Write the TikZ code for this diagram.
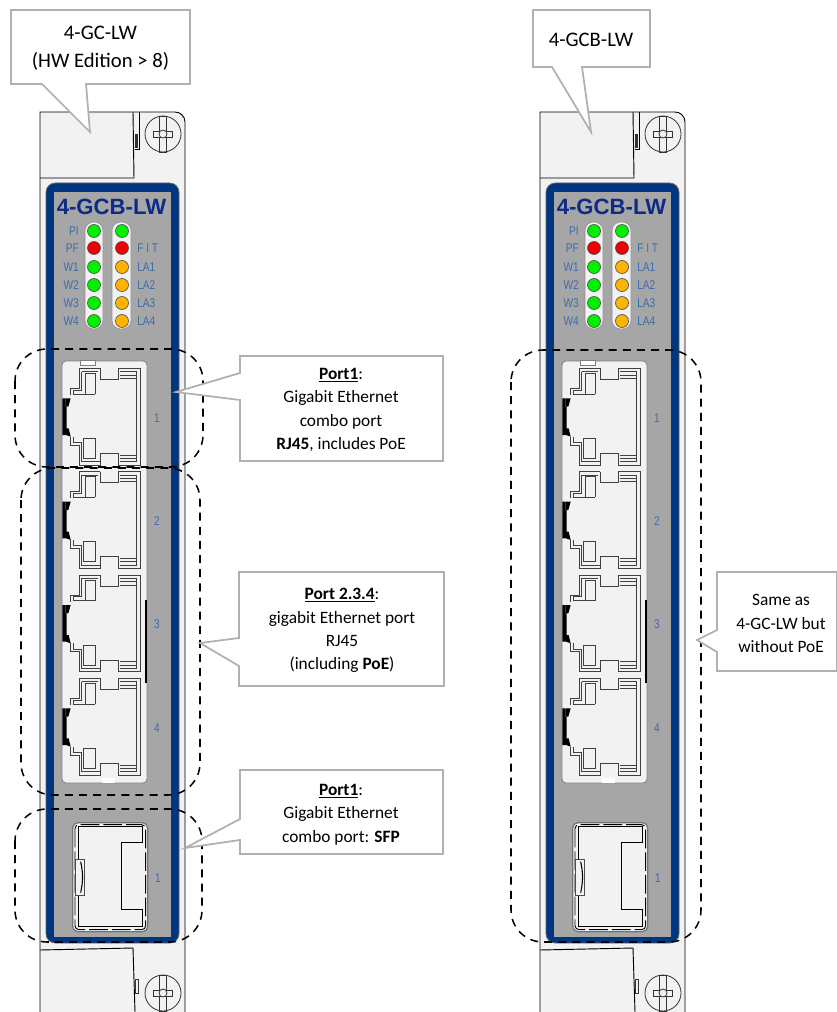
\documentclass[tikz,border=0pt]{standalone}
\usepackage{graphicx}
\usepackage{fontspec}
\setmainfont{Carlito}
\newfontfamily\armfont{Liberation Sans}
\definecolor{plate}{HTML}{F2F2F2}
\definecolor{panelblue}{HTML}{003580}
\definecolor{panelgray}{HTML}{A6A6A6}
\definecolor{labelblue}{HTML}{3F6CA8}
\definecolor{titleblue}{HTML}{0B2B85}
\definecolor{ledgreen}{HTML}{00F000}
\definecolor{ledred}{HTML}{F00000}
\definecolor{ledamber}{HTML}{FFB400}
\definecolor{callgray}{HTML}{B0B0B0}
\tikzset{
  platebox/.style={draw=black,line width=.7pt,fill=plate},
  portline/.style={draw=black!75,line width=.65pt},
  dashbox/.style={draw=black,line width=1.15pt,dash pattern=on 6pt off 4.6pt,rounded corners=24pt},
  callbox/.style={draw=callgray,line width=1.3pt,fill=white,miter limit=10},
  calltext/.style={font=\fontsize{13}{17.5}\selectfont,align=center,inner sep=0pt,text=black},
  ledpill/.style={draw=black!45,line width=.4pt,fill=plate,rounded corners=6.5pt},
  led/.style={draw=black!70,line width=.5pt},
  ledlabel/.style={font=\armfont\fontsize{9.5}{10}\selectfont,text=labelblue,inner sep=0pt},
  numlabel/.style={font=\armfont\fontsize{9.5}{10}\selectfont,text=labelblue,inner sep=0pt},
}
\newcommand{\myscrew}[2]{%
  \draw[black!80,line width=.6pt,fill=plate] (#1,#2) circle (18);
  \draw[black!80,line width=.6pt] (#1-3.5,#2-18) rectangle (#1+3.5,#2+18);
  \draw[black!80,line width=.6pt,fill=plate] (#1-9.5,#2-3) rectangle (#1+9.5,#2+3);
  \draw[black!80,line width=.6pt,fill=plate] (#1,#2) circle (4);
}
\newcommand{\myport}{%
  \draw[portline] (147,85) -- (210,85) (147,85) -- (147,145) -- (122,145) -- (122,165);
  \draw[portline] (155,95) -- (205,95) (155,95) -- (155,150) -- (130,150) -- (130,162) -- (195,162);
  \draw[portline] (165,100) -- (195,100) -- (195,162) (165,100) -- (165,162);
  \draw[portline] (210,85) -- (210,118) -- (265,118) -- (265,85) -- (330,85) -- (330,375) -- (265,375);
  \draw[portline] (270,95) -- (320,95) -- (320,365) -- (270,365);
  \draw[portline] (270,105) -- (318,105) (270,115) -- (318,115);
  \draw[portline] (270,345) -- (318,345) (270,355) -- (318,355);
  \draw[portline] (122,290) -- (122,315) -- (147,315) -- (147,375) -- (212,375);
  \draw[portline] (130,290) -- (130,307) -- (155,307) -- (155,365) -- (212,365);
  \draw[portline] (160,295) -- (195,295) -- (195,355) -- (160,355) -- cycle;
  \draw[portline,fill=plate] (212,375) -- (212,340) -- (265,340) -- (265,375);
  \fill[black] (97,175) -- (107,175) -- (107,200) -- (110,200) -- (110,270) -- (107,285) -- (97,285) -- cycle;
  \fill[black] (107,175) -- (122,175) -- (115,200) -- (107,200) -- cycle;
  \fill[black] (108,265) -- (116,265) -- (122,290) -- (108,285) -- cycle;
}
\newcommand{\mymodule}{%
  % faceplate
  \path[platebox] (40,1012) -- (40,112) -- (175,112) to[out=0,in=90] (185,122) -- (185,1012);
  \draw[black,line width=.7pt] (40,178) -- (134,178) -- (133,112);
  \draw[black,line width=.7pt] (139,112) -- (139,149) -- (135,149);
  \fill[black!80] (135,134) rectangle (137.5,148);
  \myscrew{163}{134}
  % lower latch
  \draw[black,line width=.7pt] (40,950) -- (133,948) -- (135,1012);
  \draw[black!80,line width=.5pt] (135.5,979) rectangle (138.5,993);
  \myscrew{163}{993}
  % panel
  \draw[black!60,line width=.6pt,fill=panelblue,rounded corners=7pt] (46,183) rectangle (179,943);
  \fill[panelgray] (54,192) rectangle (171,937);
  \node[font=\armfont\bfseries\fontsize{16.6}{18}\selectfont,text=titleblue,inner sep=0pt] (title) at (111.5,207) {4-GCB-LW};
  % LEDs
  \path[ledpill] (85,222) rectangle (103,329);
  \path[ledpill] (112,222) rectangle (131,329);
  \foreach \yy/\cc/\ll/\cr/\lt/\rt in {231/ledgreen/ledgreen/ledgreen/PI/,248/ledred/ledred/ledred/PF/F I T,267/ledgreen/ledgreen/ledamber/W1/LA1,285/ledgreen/ledgreen/ledamber/W2/LA2,303/ledgreen/ledgreen/ledamber/W3/LA3,321/ledgreen/ledgreen/ledamber/W4/LA4}{
    \draw[led,fill=\ll] (94,\yy) circle (6.5);
    \draw[led,fill=\cr] (122,\yy) circle (6.5);
    \node[ledlabel,anchor=east] (ll\yy) at (79,\yy) {\scalebox{.8}[1]{\lt}};
    \node[ledlabel,anchor=west] (rl\yy) at (137,\yy) {\scalebox{.8}[1]{\rt}};
  }
  % RJ45 frame
  \draw[black!50,line width=.6pt,fill=plate,rounded corners=3pt] (62,361) rectangle (147,783);
  \begin{scope}[shift={(30,340)},x=.25pt,y=-.25pt]
    \draw[black!50,line width=.5pt,fill=white] (150,60) rectangle (195,75);
    \foreach \nn in {0,310,620,930}{
      \begin{scope}[yshift=-\nn*.25pt]
        \myport
      \end{scope}
    }
    \fill[white] (215,1314) rectangle (255,1330);
    \fill[black] (345,780) rectangle (350,1030);
  \end{scope}
  \node[numlabel] (n1) at (157,418) {\scalebox{.8}[1]{1}};
  \node[numlabel] (n2) at (157,521) {\scalebox{.8}[1]{2}};
  \node[numlabel] (n3) at (157,624) {\scalebox{.8}[1]{3}};
  \node[numlabel] (n4) at (157,728) {\scalebox{.8}[1]{4}};
  % SFP
  \begin{scope}[shift={(10,780)},x=.25pt,y=-.25pt]
    \draw[black!55,line width=.9pt,fill=plate,rounded corners=4pt] (188,128) rectangle (413,455);
    \draw[black,line width=.7pt,dash pattern=on 14pt off 3pt,rounded corners=3pt] (195,134) rectangle (407,449);
    \draw[black,line width=.7pt,fill=plate] (205,140) rectangle (398,440);
    \draw[black,line width=.8pt,fill=plate] (398,188) -- (335,188) -- (335,388) -- (398,388);
    \draw[black!70,line width=.6pt,fill=plate] (195,237) rectangle (222,345);
    \draw[black,line width=.8pt] (212,245) to[bend left=12] (212,338);
  \end{scope}
  \node[numlabel] (n5) at (158,878) {\scalebox{.8}[1]{1}};
}
\begin{document}
\begin{tikzpicture}[x=.75pt,y=-.75pt]
\useasboundingbox (0,0) rectangle (837,1012);
\fill[white] (0,0) rectangle (837,1012);
\begin{scope}
  \clip (0,0) rectangle (837,1012);
  \mymodule
\end{scope}
\begin{scope}[shift={(500,0)}]
  \clip (0,0) rectangle (337,1012);
  \mymodule
\end{scope}
% dashed groups
\draw[dashbox] (15,349) rectangle (203,467);
\draw[dashbox] (21,468) rectangle (200,795);
\draw[dashbox] (15,809) rectangle (202,942);
\draw[dashbox] (511,350) rectangle (701,942);
% callouts
\draw[callbox] (11,10) -- (190,10) -- (190,84) -- (86,84) -- (90,132) -- (42,84) -- (11,84) -- cycle;
\node[calltext,font=\fontsize{15.5}{21}\selectfont] (c1) at (100.5,48) {4-GC-LW\\(HW Edition > 8)};
\draw[callbox] (533,10) -- (650,10) -- (650,67) -- (582,67) -- (591,132) -- (552,67) -- (533,67) -- cycle;
\node[calltext,font=\fontsize{15.5}{21}\selectfont] (c2) at (591,40) {4-GCB-LW};
\draw[callbox] (240,356) -- (443,356) -- (443,461) -- (240,461) -- (240,400) -- (176,392) -- (240,373) -- cycle;
\node[calltext] (c3) at (341,410) {\underline{\textbf{Port1}}:\\Gigabit Ethernet\\combo port\\\textbf{RJ45}, includes PoE};
\draw[callbox] (239,572) -- (444,572) -- (444,686) -- (239,686) -- (239,666) -- (200,643) -- (239,638) -- cycle;
\node[calltext] (c4) at (342,630.5) {\underline{\textbf{Port 2.3.4}}:\\gigabit Ethernet port\\RJ45\\(including \textbf{PoE})};
\draw[callbox] (240,770) -- (443,770) -- (443,854) -- (240,854) -- (240,840) -- (185,848) -- (240,819) -- cycle;
\node[calltext] (c5) at (341,814.5) {\underline{\textbf{Port1}}:\\Gigabit Ethernet\\combo port: \textbf{SFP}};
\draw[callbox] (717,572) -- (837,572) -- (837,671) -- (717,671) -- (717,652) -- (697,640) -- (717,630) -- cycle;
\node[calltext] (c6) at (781,623.5) {Same as\\4-GC-LW but\\without PoE};
\end{tikzpicture}
\end{document}
